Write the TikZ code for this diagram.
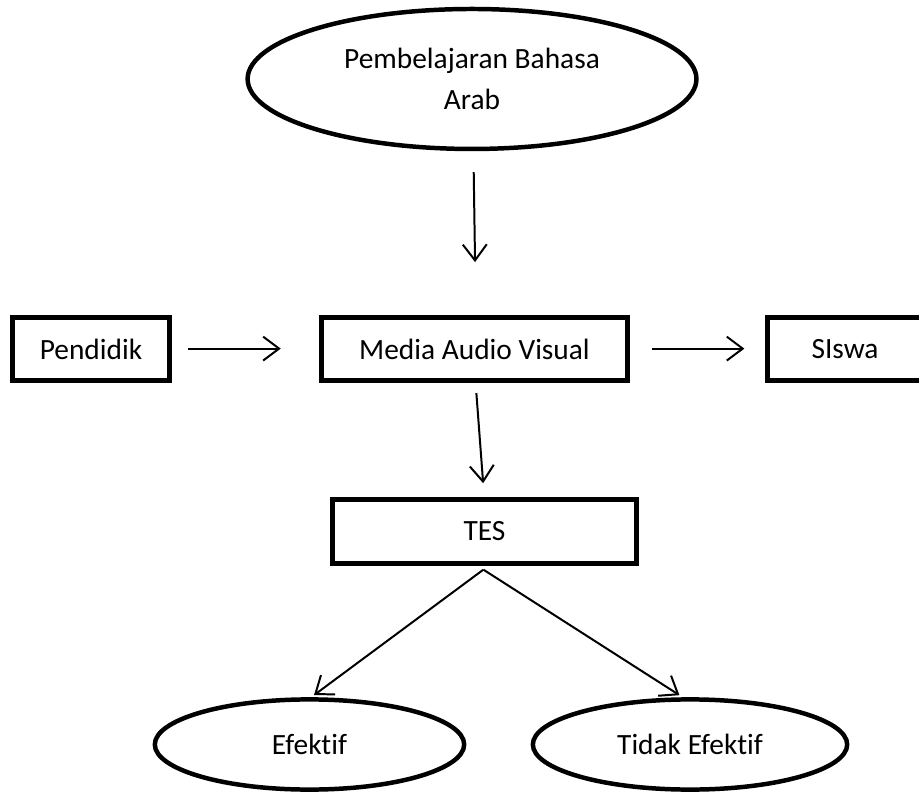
\documentclass[tikz,border=0pt]{standalone}
\usepackage{fontspec}
\setmainfont[Ligatures=NoCommon]{Carlito}
\usetikzlibrary{shapes.geometric,arrows.meta}

\begin{document}
\begin{tikzpicture}[scale=0.2,
  box/.style={draw=black, line width=5pt, rectangle, minimum height=63.5pt},
  oval/.style={draw=black, line width=4.5pt, ellipse},
  arr/.style={black, line width=2pt, -{Straight Barb[length=16pt,width=24pt]}}]
\tikzstyle{every node}+=[inner sep=0pt, font=\fontsize{29.5}{42}\selectfont]
\useasboundingbox (0,0) rectangle (162.1,-140.05);
\draw (83.26,-13.93) node [oval, minimum width=450.5pt, minimum height=140.5pt, align=center] (top) {Pembelajaran Bahasa\\Arab};
\draw (16.05,-61.56) node [box, minimum width=157pt] (pen) {Pendidik};
\draw (83.70,-61.56) node [box, minimum width=308pt] (mav) {Media Audio Visual};
\draw (149.05,-61.56) node [box, minimum width=155pt] (siswa) {SIswa};
\draw (85.46,-93.75) node [box, minimum width=306pt, minimum height=64pt] (tes) {TES};
\draw (54.59,-131.32) node [oval, minimum width=310.5pt, minimum height=90.5pt] (eff) {Efektif};
\draw (121.71,-131.32) node [oval, minimum width=315.5pt, minimum height=90.5pt] (tid) {Tidak Efektif};
\coordinate (fork) at ([xshift=-5.5pt,yshift=-19pt]tes.south);
\draw [arr, shorten <=21pt, shorten >=53pt] ([xshift=7pt]top.south) -- ([xshift=6.5pt]mav.north);
\draw [arr, shorten <=16pt, shorten >=38pt] ([yshift=2pt]pen.east) -- ([yshift=2pt]mav.west);
\draw [arr, shorten <=22pt, shorten >=21pt] ([yshift=2pt]mav.east) -- ([yshift=2pt]siswa.west);
\draw [arr, shorten <=10pt, shorten >=14pt] ([xshift=5.5pt]mav.south) -- ([xshift=-1.5pt]tes.north);
\draw [arr] (fork) -- ([xshift=22.5pt,yshift=10pt]eff.north);
\draw [arr] (fork) -- ([xshift=-53pt,yshift=10pt]tid.north);
\end{tikzpicture}
\end{document}
